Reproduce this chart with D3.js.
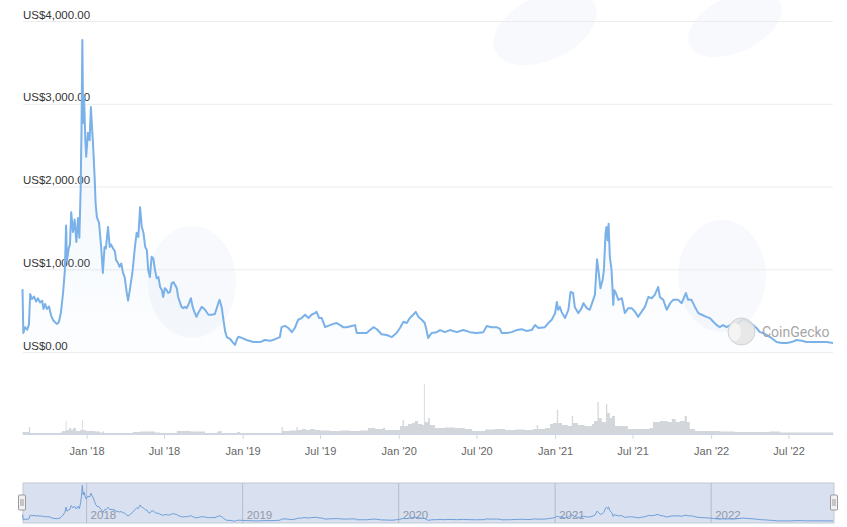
<!DOCTYPE html>
<html lang="en">
<head>
<meta charset="UTF-8" />
<title>Bitcoin Cash price</title>
<style>
  * { box-sizing: border-box; margin: 0; padding: 0; }
  body { background: #fff; width: 847px; height: 527px; overflow: hidden; }
  svg { display: block; font-family: "Liberation Sans", Arial, sans-serif; }
</style>
</head>
<body>
<svg id="chart" width="847" height="527"></svg>

<script src="https://cdn.jsdelivr.net/npm/d3@7/dist/d3.min.js"></script>
<script>
// price in USD
const priceDates = [
  "2017-08-04","2017-08-06","2017-08-10","2017-08-15","2017-08-19","2017-08-22","2017-08-26","2017-08-31",
  "2017-09-05","2017-09-09","2017-09-14","2017-09-19","2017-09-22","2017-09-26","2017-09-30","2017-10-05",
  "2017-10-10","2017-10-14","2017-10-19","2017-10-24","2017-10-28","2017-11-02","2017-11-07","2017-11-11",
  "2017-11-14","2017-11-16","2017-11-20","2017-11-23","2017-11-26","2017-11-30","2017-12-04","2017-12-08",
  "2017-12-12","2017-12-15","2017-12-18","2017-12-20","2017-12-22","2017-12-24","2017-12-26","2017-12-29",
  "2017-12-31","2018-01-04","2018-01-08","2018-01-11","2018-01-14","2018-01-16","2018-01-20","2018-01-22",
  "2018-01-25","2018-01-30","2018-02-04","2018-02-08","2018-02-12","2018-02-15","2018-02-20","2018-02-24",
  "2018-02-27","2018-03-04","2018-03-08","2018-03-11","2018-03-15","2018-03-19","2018-03-23","2018-03-27",
  "2018-03-31","2018-04-05","2018-04-08","2018-04-12","2018-04-18","2018-04-24","2018-04-28","2018-05-02",
  "2018-05-06","2018-05-10","2018-05-14","2018-05-18","2018-05-22","2018-05-25","2018-05-29","2018-06-02",
  "2018-06-06","2018-06-10","2018-06-14","2018-06-18","2018-06-22","2018-06-26","2018-06-29","2018-07-03",
  "2018-07-07","2018-07-11","2018-07-15","2018-07-19","2018-07-23","2018-07-27","2018-07-31","2018-08-03",
  "2018-08-07","2018-08-11","2018-08-15","2018-08-19","2018-08-23","2018-08-27","2018-09-02","2018-09-06",
  "2018-09-10","2018-09-15","2018-09-19","2018-09-27","2018-10-01","2018-10-05","2018-10-13","2018-10-21",
  "2018-10-28","2018-11-05","2018-11-08","2018-11-13","2018-11-17","2018-11-21","2018-11-25","2018-12-02",
  "2018-12-10","2018-12-14","2018-12-18","2018-12-22","2018-12-30","2019-01-10","2019-01-26","2019-02-11",
  "2019-02-22","2019-03-06","2019-03-18","2019-03-29","2019-04-02","2019-04-10","2019-04-18","2019-04-26",
  "2019-05-03","2019-05-11","2019-05-19","2019-05-27","2019-06-04","2019-06-11","2019-06-19","2019-06-23",
  "2019-06-29","2019-07-05","2019-07-13","2019-07-20","2019-08-01","2019-08-09","2019-08-17","2019-08-24",
  "2019-09-01","2019-09-13","2019-09-21","2019-09-25","2019-10-03","2019-10-18","2019-10-26","2019-11-03",
  "2019-11-11","2019-11-22","2019-12-04","2019-12-16","2019-12-27","2020-01-04","2020-01-12","2020-01-20",
  "2020-01-27","2020-02-04","2020-02-10","2020-02-16","2020-02-24","2020-03-02","2020-03-06","2020-03-10",
  "2020-03-18","2020-03-30","2020-04-07","2020-04-18","2020-04-30","2020-05-16","2020-05-31","2020-06-16",
  "2020-07-01","2020-07-17","2020-07-25","2020-08-05","2020-08-17","2020-08-25","2020-08-29","2020-09-10",
  "2020-09-21","2020-10-03","2020-10-15","2020-10-26","2020-11-07","2020-11-15","2020-11-23","2020-12-08",
  "2020-12-16","2020-12-24","2021-01-01","2021-01-05","2021-01-08","2021-01-12","2021-01-16","2021-01-24",
  "2021-02-01","2021-02-06","2021-02-12","2021-02-16","2021-02-24","2021-03-04","2021-03-08","2021-03-16",
  "2021-03-23","2021-03-31","2021-04-04","2021-04-09","2021-04-13","2021-04-17","2021-04-22","2021-04-25",
  "2021-04-29","2021-05-01","2021-05-04","2021-05-06","2021-05-09","2021-05-13","2021-05-17","2021-05-19",
  "2021-05-23","2021-05-29","2021-06-06","2021-06-13","2021-06-21","2021-06-29","2021-07-07","2021-07-14",
  "2021-07-22","2021-07-30","2021-08-07","2021-08-15","2021-08-22","2021-08-30","2021-09-03","2021-09-11",
  "2021-09-19","2021-09-27","2021-10-04","2021-10-16","2021-10-24","2021-11-03","2021-11-08","2021-11-16",
  "2021-11-24","2021-12-02","2021-12-10","2021-12-21","2021-12-29","2022-01-06","2022-01-14","2022-01-21",
  "2022-01-29","2022-02-06","2022-02-14","2022-02-22","2022-03-02","2022-03-09","2022-03-17","2022-03-25",
  "2022-04-02","2022-04-09","2022-04-17","2022-04-25","2022-05-03","2022-05-11","2022-05-22","2022-06-03",
  "2022-06-15","2022-06-27","2022-07-08","2022-07-20","2022-08-01","2022-08-12","2022-08-28","2022-09-12",
  "2022-09-28","2022-10-13"
];
const priceValues = [
  760,230,300,270,330,700,640,670,
  610,650,600,620,520,580,520,550,
  440,390,360,340,360,480,720,980,
  1530,1100,1250,1300,1690,1450,1600,1330,
  1620,1380,1960,2680,3770,2770,3080,2560,
  2360,2650,2560,2960,2680,2520,2080,1800,
  1630,1560,1270,955,1270,1250,1510,1270,
  1300,1250,1220,1110,1080,1030,1070,960,
  905,713,620,750,955,1270,1440,1390,
  1750,1510,1440,1270,1230,990,905,1150,
  1130,990,890,905,785,750,665,770,
  750,713,725,830,845,810,770,665,
  605,545,530,545,530,570,650,545,
  485,425,470,545,530,510,450,450,
  460,590,630,540,390,250,180,160,
  110,85,145,185,170,145,120,120,
  145,135,155,180,300,315,290,240,
  290,390,410,450,410,450,470,485,
  410,410,300,315,340,350,325,300,
  300,315,325,230,230,230,265,300,
  275,215,205,180,230,290,365,350,
  410,450,485,425,390,350,265,170,
  230,240,265,240,265,240,265,240,
  230,240,315,300,300,280,230,230,
  240,265,275,255,265,325,290,300,
  350,390,470,605,510,545,485,410,
  510,725,713,545,470,530,590,530,
  510,630,690,1120,955,770,870,990,
  1440,1510,1350,1550,1150,990,570,750,
  713,630,650,470,530,530,485,425,
  485,545,665,650,690,785,665,630,
  510,590,630,630,590,713,630,630,
  545,470,450,425,410,365,325,300,
  325,300,325,290,340,365,400,375,
  350,325,290,240,230,205,170,120,
  110,110,120,145,135,120,120,120,
  120,110
];

// volume in billions USD
const volumeDates = [
  "2017-08-04","2017-08-19","2017-08-22","2017-10-31","2017-11-05","2017-11-13","2017-11-15","2017-11-21",
  "2017-11-26","2017-11-30","2017-12-07","2017-12-17","2017-12-21","2017-12-23","2017-12-30","2018-01-21",
  "2018-02-01","2018-02-08","2018-02-11","2018-04-12","2018-04-19","2018-05-06","2018-06-10","2018-06-22",
  "2018-07-31","2018-09-01","2018-10-01","2018-10-05","2018-11-02","2018-11-08","2018-11-13","2018-12-19",
  "2018-12-26","2019-03-29","2019-04-02","2019-04-05","2019-04-21","2019-05-07","2019-05-10","2019-05-20",
  "2019-05-29","2019-06-08","2019-06-19","2019-07-01","2019-07-24","2019-08-17","2019-09-09","2019-10-02",
  "2019-10-21","2019-11-07","2019-11-25","2019-11-30","2019-12-23","2020-01-04","2020-01-10","2020-01-13",
  "2020-01-23","2020-02-01","2020-02-08","2020-02-15","2020-02-25","2020-02-29","2020-03-02","2020-03-10",
  "2020-03-14","2020-03-26","2020-04-18","2020-05-12","2020-06-04","2020-06-21","2020-07-21","2020-08-13",
  "2020-09-06","2020-09-29","2020-10-22","2020-11-10","2020-11-19","2020-11-22","2020-12-08","2020-12-20",
  "2020-12-27","2021-01-05","2021-01-08","2021-01-17","2021-01-31","2021-02-09","2021-02-12","2021-02-23",
  "2021-03-11","2021-03-28","2021-04-02","2021-04-10","2021-04-13","2021-04-20","2021-04-30","2021-05-03",
  "2021-05-09","2021-05-14","2021-05-21","2021-06-02","2021-06-20","2021-07-18","2021-08-10","2021-08-18",
  "2021-09-03","2021-09-21","2021-10-01","2021-10-10","2021-10-20","2021-10-31","2021-11-05","2021-11-12",
  "2021-11-24","2021-12-29","2022-01-21","2022-02-25","2022-04-13","2022-05-18","2022-06-11","2022-07-27",
  "2022-10-13"
];
const volumeValues = [
  0.4,1.34,0.2,0.3,0.6,2.6,0.8,1.2,
  0.8,1.2,0.6,0.8,2.8,0.8,0.6,0.5,
  0.3,0.54,0.2,0.2,0.4,0.5,0.3,0.2,
  0.6,0.5,0.5,0.2,0.5,0.6,0.2,0.4,
  0.2,0.2,1.34,0.6,0.7,1.34,0.8,1.0,
  0.8,1.0,0.8,0.7,0.6,0.7,0.6,0.7,
  1.2,1.0,1.2,0.8,0.8,1.6,2.8,1.6,
  2.0,2.2,2.6,2.0,1.8,10,2.4,3.2,
  1.8,1.2,1.3,1.2,1.0,0.6,0.9,1.0,
  0.8,0.9,0.8,1.0,1.8,1.0,1.2,2.0,
  2.2,4.8,2.2,1.8,1.6,3.6,2.2,1.8,
  1.6,2.0,2.6,6.4,3.2,2.4,6.0,4.2,
  3.2,3.6,1.6,1.6,1.0,1.0,1.2,2.4,
  2.6,2.4,3.0,2.4,2.6,3.6,2.4,1.0,
  0.6,0.6,0.5,0.4,0.4,0.5,0.3,0.3,
  0.25
];

const yTicks = [0, 1000, 2000, 3000, 4000];
const monthTicks = ["2018-01-01","2018-07-01","2019-01-01","2019-07-01","2020-01-01",
                    "2020-07-01","2021-01-01","2021-07-01","2022-01-01","2022-07-01"];
const monthLabels = ["Jan '18","Jul '18","Jan '19","Jul '19","Jan '20",
                     "Jul '20","Jan '21","Jul '21","Jan '22","Jul '22"];
const yearTicks = ["2018-01-01","2019-01-01","2020-01-01","2021-01-01","2022-01-01"];
const yearLabels = ["2018","2019","2020","2021","2022"];

const parse = d3.utcParse("%Y-%m-%d");
const prices = priceDates.map((d, i) => ({ date: parse(d), v: priceValues[i] }));
const volumes = volumeDates.map((d, i) => ({ date: parse(d), v: volumeValues[i] }));

const svg = d3.select("#chart");

// scales
const x = d3.scaleUtc()
  .domain([parse("2017-08-04"), parse("2022-10-13")])
  .range([22.5, 833]);
const y = d3.scaleLinear().domain([0, 4000]).range([352, 21]);
const yVol = d3.scaleLinear().domain([0, 10]).range([434, 384]);
const yNav = d3.scaleLinear().domain([0, 3800]).range([522, 485]);

// very faint watermark blobs behind the plot
const blobs = svg.append("g").attr("fill", "#f7f9fc");
blobs.append("ellipse").attr("cx", 545).attr("cy", 28).attr("rx", 55).attr("ry", 32).attr("transform", "rotate(-25 545 28)");
blobs.append("ellipse").attr("cx", 735).attr("cy", 24).attr("rx", 50).attr("ry", 28).attr("transform", "rotate(-25 735 24)");
blobs.append("ellipse").attr("cx", 192).attr("cy", 282).attr("rx", 44).attr("ry", 56);
blobs.append("ellipse").attr("cx", 722).attr("cy", 276).attr("rx", 44).attr("ry", 56);

// y grid and labels
const yAxis = svg.append("g")
  .attr("transform", "translate(23,0)")
  .call(d3.axisLeft(y).tickValues(yTicks).tickSize(-810)
    .tickFormat(d => "US$" + d3.format(",.2f")(d)));
yAxis.select(".domain").remove();
yAxis.selectAll("line").attr("stroke", "#ececec");
yAxis.selectAll("text")
  .attr("x", 0).attr("dy", -3)
  .attr("text-anchor", "start")
  .attr("fill", "#333")
  .style("font-size", "11.5px");

// price area + line
const grad = svg.append("defs").append("linearGradient")
  .attr("id", "areaGrad").attr("x1", 0).attr("y1", 0).attr("x2", 0).attr("y2", 1);
grad.append("stop").attr("offset", "0%").attr("stop-color", "#7cb5ec").attr("stop-opacity", 0.14);
grad.append("stop").attr("offset", "100%").attr("stop-color", "#7cb5ec").attr("stop-opacity", 0.02);

svg.append("path")
  .datum(prices)
  .attr("fill", "url(#areaGrad)")
  .attr("d", d3.area().x(d => x(d.date)).y0(y(0)).y1(d => y(d.v)));

svg.append("path")
  .datum(prices)
  .attr("fill", "none")
  .attr("stroke", "#7ab1e8")
  .attr("stroke-width", 2)
  .attr("stroke-linejoin", "round")
  .attr("d", d3.line().x(d => x(d.date)).y(d => y(d.v)));

// CoinGecko watermark
const wm = svg.append("g");
wm.append("circle").attr("cx", 741.5).attr("cy", 331.5).attr("r", 13.5)
  .attr("fill", "#e4e4e4").attr("stroke", "#d2d2d2").attr("fill-opacity", 0.85);
wm.append("ellipse").attr("cx", 735).attr("cy", 332).attr("rx", 6).attr("ry", 9)
  .attr("fill", "#f4f4f4");
wm.append("text").attr("x", 762).attr("y", 337)
  .attr("fill", "#a6a6a6").style("font-size", "14px").style("font-family", "Roboto, Arial, sans-serif")
  .text("CoinGecko");

// volume
svg.append("path")
  .datum(volumes)
  .attr("fill", "#d3d6da")
  .attr("d", d3.area().curve(d3.curveStepAfter)
    .x(d => x(d.date)).y0(yVol(0)).y1(d => yVol(d.v)));

const xAxis = svg.append("g")
  .attr("transform", "translate(0,434)")
  .call(d3.axisBottom(x)
    .tickValues(monthTicks.map(parse))
    .tickFormat((d, i) => monthLabels[i])
    .tickSize(5).tickSizeOuter(0).tickPadding(8));
xAxis.select(".domain").attr("stroke", "#ccd6eb");
xAxis.selectAll("line").attr("stroke", "#ccd6eb");
xAxis.selectAll("text").attr("fill", "#666").style("font-size", "11px");

// navigator
const nav = svg.append("g");
nav.append("rect")
  .attr("x", 23).attr("y", 483).attr("width", 811).attr("height", 40)
  .attr("fill", "#d9e0f0").attr("stroke", "#c3c9d4");
nav.selectAll(".yearLine")
  .data(yearTicks)
  .enter()
  .append("line")
  .attr("class", "yearLine")
  .attr("x1", d => x(parse(d))).attr("x2", d => x(parse(d)))
  .attr("y1", 483).attr("y2", 523)
  .attr("stroke", "#b5bdcc").attr("stroke-width", 1);
nav.selectAll(".yearLabel")
  .data(yearTicks)
  .enter()
  .append("text")
  .attr("class", "yearLabel")
  .attr("x", d => x(parse(d)) + 4)
  .attr("y", 519)
  .attr("fill", "#8f99a8")
  .style("font-size", "11.5px")
  .text((d, i) => yearLabels[i]);
nav.append("path")
  .datum(prices)
  .attr("fill", "none")
  .attr("stroke", "#6d9fd9")
  .attr("stroke-width", 1)
  .attr("d", d3.line().x(d => x(d.date)).y(d => yNav(d.v)));

// handles
[22, 834].forEach(hx => {
  const h = nav.append("g").attr("transform", `translate(${hx - 3.5},495)`);
  h.append("rect").attr("width", 7).attr("height", 15).attr("rx", 1)
    .attr("fill", "#f2f2f2").attr("stroke", "#999");
  h.append("line").attr("x1", 2.5).attr("x2", 2.5).attr("y1", 4).attr("y2", 11).attr("stroke", "#999");
  h.append("line").attr("x1", 4.5).attr("x2", 4.5).attr("y1", 4).attr("y2", 11).attr("stroke", "#999");
});
</script>
</body>
</html>
